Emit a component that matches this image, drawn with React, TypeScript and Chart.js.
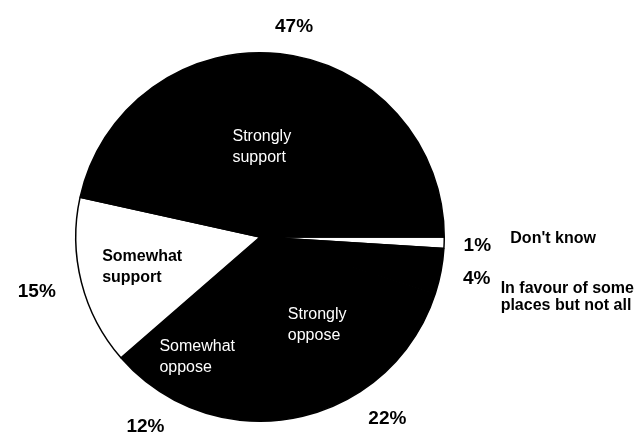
import React, { useEffect, useRef } from "react";
import { Chart, registerables } from "chart.js";

Chart.register(...registerables);

// ---- data ----
const categories = [
  "Don't know",
  "In favour of some places but not all",
  "Strongly oppose",
  "Somewhat oppose",
  "Somewhat support",
  "Strongly support",
];
const values = [1, 4, 22, 12, 15, 47];
const percentLabels = ["1%", "4%", "22%", "12%", "15%", "47%"];
const innerLabels: (string[] | null)[] = [
  null,
  null,
  ["Strongly", "oppose"],
  ["Somewhat", "oppose"],
  ["Somewhat", "support"],
  ["Strongly", "support"],
];
const sideLabels: (string[] | null)[] = [
  ["Don't know"],
  ["In favour of some", "places but not all"],
  null,
  null,
  null,
  null,
];

// ---- styles ----
const sliceColors = ["#ffffff", "#000000", "#000000", "#000000", "#ffffff", "#000000"];
const innerTextColors = ["#000", "#fff", "#fff", "#fff", "#000", "#fff"];
const innerBold = [false, false, false, false, true, false];
const pctLayout = [
  { f: 1.18, dx: 0, dy: 2 },
  { f: 1.18, dx: 3, dy: 1 },
  { f: 1.2, dx: 7, dy: -4 },
  { f: 1.2, dx: -12, dy: -6 },
  { f: 1.25, dx: 0, dy: -2 },
  { f: 1.15, dx: 11, dy: 0 },
];
const innerLayout = [
  { f: 0, dx: 0, dy: 0 },
  { f: 0, dx: 0, dy: 0 },
  { f: 0.57, dx: 0, dy: 0 },
  { f: 0.735, dx: 0, dy: 0 },
  { f: 0.66, dx: 0, dy: 0 },
  { f: 0.49, dx: -8, dy: 0 },
];
const sideLayout = [
  { dx: 33, dy: -7 },
  { dx: 24, dy: 10 },
];
const FONT = '"Liberation Sans", Arial, sans-serif';

const labelPlugin = {
  id: "pieLabels",
  afterDatasetsDraw(chart: any) {
    const ctx: CanvasRenderingContext2D = chart.ctx;
    const meta = chart.getDatasetMeta(0);
    ctx.save();
    meta.data.forEach((arc: any, i: number) => {
      const { x, y, startAngle, endAngle, outerRadius } = arc.getProps(
        ["x", "y", "startAngle", "endAngle", "outerRadius"],
        true
      );
      const mid = (startAngle + endAngle) / 2;
      const c = Math.cos(mid);
      const s = Math.sin(mid);

      // outer percent
      const pl = pctLayout[i];
      const px = x + c * outerRadius * pl.f + pl.dx;
      const py = y + s * outerRadius * pl.f + pl.dy;
      ctx.fillStyle = "#000";
      ctx.font = `bold 19px ${FONT}`;
      ctx.textAlign = "center";
      ctx.textBaseline = "middle";
      ctx.fillText(percentLabels[i], px, py);

      // side labels
      const side = sideLabels[i];
      if (side) {
        const sl = sideLayout[i];
        ctx.font = `bold 16px ${FONT}`;
        ctx.textAlign = "left";
        side.forEach((t, k) => {
          ctx.fillText(t, px + sl.dx, py + sl.dy + k * 17);
        });
      }

      // inner labels
      const inner = innerLabels[i];
      if (inner) {
        const il = innerLayout[i];
        const cx = x + c * outerRadius * il.f + il.dx;
        const cy = y + s * outerRadius * il.f + il.dy;
        ctx.font = `${innerBold[i] ? "bold " : ""}16px ${FONT}`;
        ctx.fillStyle = innerTextColors[i];
        const w = Math.max(...inner.map((t) => ctx.measureText(t).width));
        const lh = 21;
        ctx.textAlign = "left";
        inner.forEach((t, k) => {
          ctx.fillText(t, cx - w / 2, cy + (k - (inner.length - 1) / 2) * lh);
        });
      }
    });
    ctx.restore();
  },
};

export default function App() {
  const ref = useRef<HTMLCanvasElement | null>(null);
  useEffect(() => {
    document.body.style.margin = "0";
    const chart = new Chart(ref.current as HTMLCanvasElement, {
      type: "pie",
      data: {
        labels: categories,
        datasets: [
          {
            data: values,
            backgroundColor: sliceColors,
            borderColor: "#000",
            borderWidth: 1.5,
          },
        ],
      },
      options: {
        responsive: false,
        animation: false,
        rotation: 90,
        layout: { padding: { left: 75, right: 195, top: 52, bottom: 16 } },
        plugins: {
          legend: { display: false },
          tooltip: { enabled: false },
        },
        events: [],
      },
      plugins: [labelPlugin],
    });
    return () => chart.destroy();
  }, []);
  return (
    <div style={{ width: 640, height: 438, background: "#fff" }}>
      <canvas ref={ref} width={640} height={438} />
    </div>
  );
}
